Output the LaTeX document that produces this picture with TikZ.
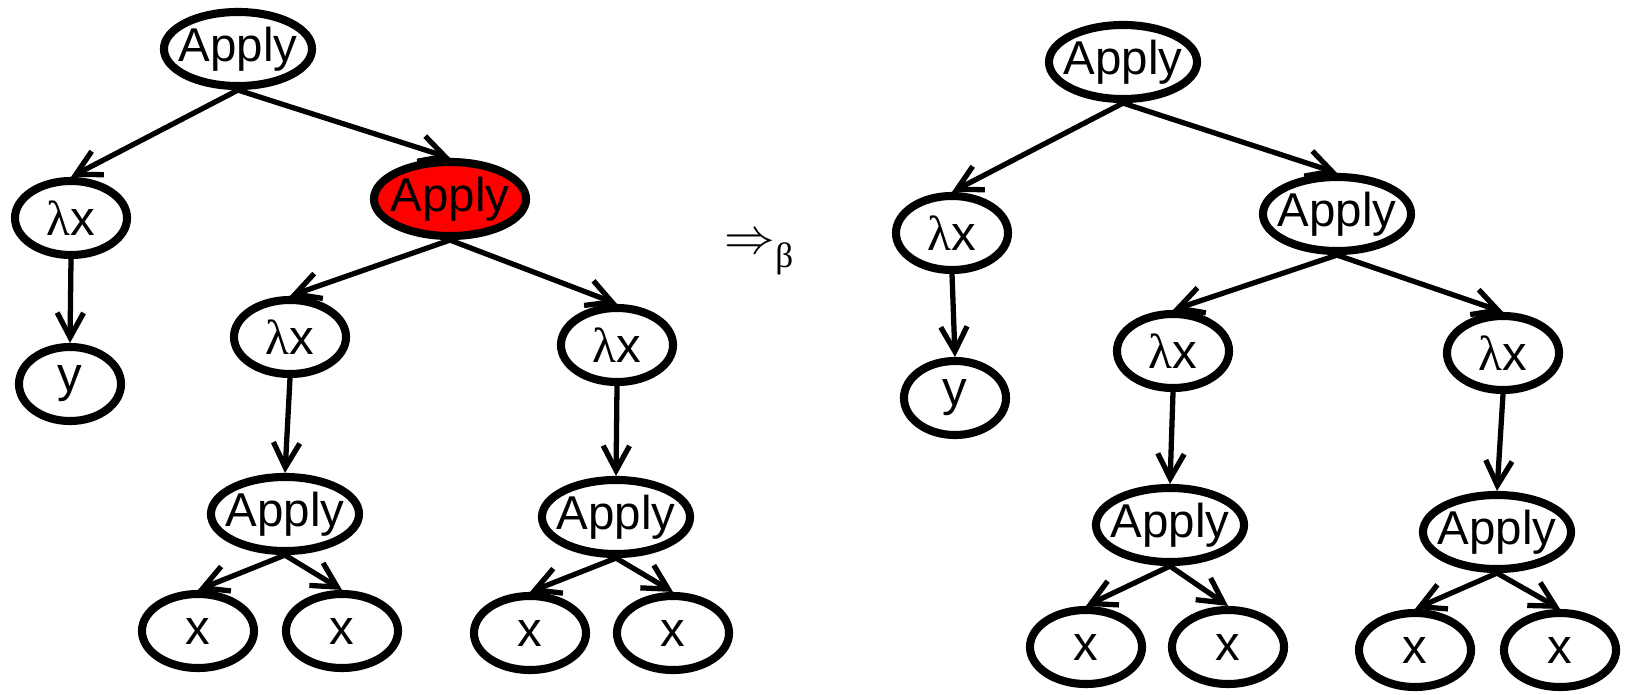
\documentclass[tikz,border=0pt]{standalone}
\usepackage{amsmath}
\usepackage{fontspec}
\setmainfont{Liberation Sans}
\newfontfamily\lamfont{Liberation Serif}
\usepackage{tikz}
\usetikzlibrary{arrows.meta,shapes.geometric}
\newcommand{\lam}{{\lamfont λ}x}

\begin{document}
\begin{tikzpicture}[x=0.01cm,y=-0.01cm]
\tikzstyle{term}=[ellipse,draw,line width=2.3pt,inner sep=0pt,minimum width=1.12cm,minimum height=0.74cm,font=\fontsize{14pt}{16pt}\selectfont]
\tikzstyle{app}=[term,inner xsep=-4pt,minimum width=1.48cm,font=\fontsize{13.5pt}{16pt}\selectfont]
\tikzstyle{redex}=[app,fill=red,minimum width=1.52cm]
\tikzstyle{edge}=[line width=1.5pt,-{Straight Barb[length=7pt,width=7.5pt]}]
\useasboundingbox (0,0) rectangle (1628,694);
% before
\node[app] (a) at (238,49) {Apply};
\node[term] (la) at (71,218) {\lam};
\node[redex] (r) at (450,199) {Apply};
\node[term,minimum width=1.02cm] (ya) at (70,384) {y};
\node[term] (lb) at (290,337) {\lam};
\node[term] (lc) at (617,345) {\lam};
\node[app] (b) at (285,514) {Apply};
\node[app] (c) at (616,517) {Apply};
\node[term] (xa) at (198,631) {x};
\node[term] (xb) at (342,631) {x};
\node[term] (xc) at (530,633) {x};
\node[term] (xd) at (673,633) {x};
\draw[edge] (a.south) -- (la.north);
\draw[edge] (a.south) -- (r.north);
\draw[edge] (la.south) -- (ya.north);
\draw[edge] (r.south) -- (lb.north);
\draw[edge] (r.south) -- (lc.north);
\draw[edge] (lb.south) -- (b.north);
\draw[edge] (lc.south) -- (c.north);
\draw[edge] (b.south) -- (xa.north);
\draw[edge] (b.south) -- (xb.north);
\draw[edge] (c.south) -- (xc.north);
\draw[edge] (c.south) -- (xd.north);
% step
\node[anchor=base west,inner sep=0pt,font=\fontsize{14pt}{16pt}\selectfont] (beta) at (724,253) {$\Rightarrow$\raisebox{-0.3em}{\lamfont\fontsize{10pt}{12pt}\selectfont β}};
% after
\node[app] (d) at (1123,62) {Apply};
\node[term] (ld) at (952,233) {\lam};
\node[app] (e) at (1337,214) {Apply};
\node[term,minimum width=1.02cm] (yb) at (955,398) {y};
\node[term] (le) at (1173,351) {\lam};
\node[term] (lf) at (1503,353) {\lam};
\node[app] (f) at (1170,525) {Apply};
\node[app] (g) at (1497,532) {Apply};
\node[term] (xe) at (1086,647) {x};
\node[term] (xf) at (1228,647) {x};
\node[term] (xg) at (1415,650) {x};
\node[term] (xh) at (1560,650) {x};
\draw[edge] (d.south) -- (ld.north);
\draw[edge] (d.south) -- (e.north);
\draw[edge] (ld.south) -- (yb.north);
\draw[edge] (e.south) -- (le.north);
\draw[edge] (e.south) -- (lf.north);
\draw[edge] (le.south) -- (f.north);
\draw[edge] (lf.south) -- (g.north);
\draw[edge] (f.south) -- (xe.north);
\draw[edge] (f.south) -- (xf.north);
\draw[edge] (g.south) -- (xg.north);
\draw[edge] (g.south) -- (xh.north);
\end{tikzpicture}
\end{document}
